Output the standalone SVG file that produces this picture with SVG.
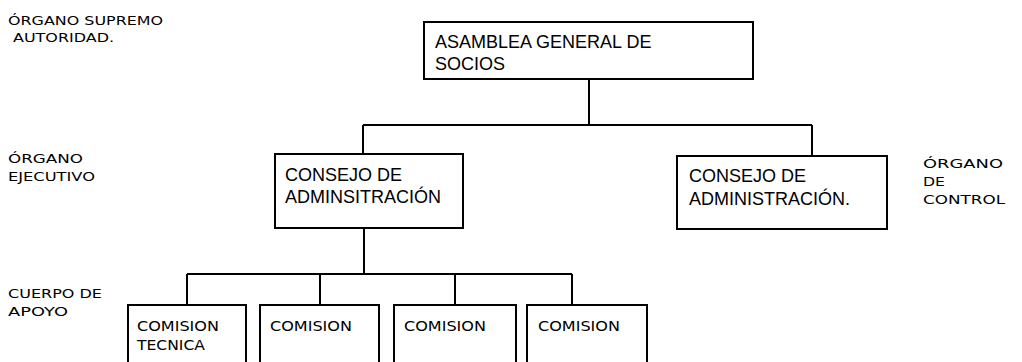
<svg xmlns="http://www.w3.org/2000/svg" width="1022" height="362" viewBox="0 0 1022 362">
<style>
.box{fill:#fff;stroke:#000;stroke-width:2}
.ln{fill:none;stroke:#000;stroke-width:2}
.bt{font-family:"Liberation Sans",Arial,sans-serif;font-size:18px;fill:#000}
.lb{font-family:"DejaVu Sans","Liberation Sans",sans-serif;font-size:13px;fill:#000}
.ct{font-family:"DejaVu Sans","Liberation Sans",sans-serif;font-size:14px;fill:#000}
</style>
<rect width="1022" height="362" fill="#fff"/>
<g id="connectors">
<path class="ln" d="M589 79V125M363 125H812M363 125V154M812 125V156"/>
<path class="ln" d="M364 228V274M187 274H572M187 274V305M320 274V305M455 274V305M572 274V305"/>
</g>
<g id="labels">
<text class="lb" x="8" y="25" textLength="155" lengthAdjust="spacingAndGlyphs">ÓRGANO SUPREMO</text>
<text class="lb" x="13" y="42" textLength="101" lengthAdjust="spacingAndGlyphs">AUTORIDAD.</text>
<text class="lb" x="8" y="163" textLength="75" lengthAdjust="spacingAndGlyphs">ÓRGANO</text>
<text class="lb" x="8" y="181" textLength="87" lengthAdjust="spacingAndGlyphs">EJECUTIVO</text>
<text class="lb" x="923" y="168" textLength="80" lengthAdjust="spacingAndGlyphs">ÓRGANO</text>
<text class="lb" x="923" y="186" textLength="22" lengthAdjust="spacingAndGlyphs">DE</text>
<text class="lb" x="923" y="204" textLength="82" lengthAdjust="spacingAndGlyphs">CONTROL</text>
<text class="lb" x="8" y="298" textLength="94" lengthAdjust="spacingAndGlyphs">CUERPO DE</text>
<text class="lb" x="8" y="316" textLength="60" lengthAdjust="spacingAndGlyphs">APOYO</text>
</g>
<g id="asamblea">
<rect class="box" x="424" y="22" width="329" height="57"/>
<text class="bt" x="435" y="48">ASAMBLEA GENERAL DE</text>
<text class="bt" x="435" y="70">SOCIOS</text>
</g>
<g id="consejo-admin-left">
<rect class="box" x="275" y="154" width="188" height="74"/>
<text class="bt" x="285" y="181">CONSEJO DE</text>
<text class="bt" x="285" y="203">ADMINSITRACIÓN</text>
</g>
<g id="consejo-admin-right">
<rect class="box" x="677" y="156" width="210" height="73"/>
<text class="bt" x="689" y="182">CONSEJO DE</text>
<text class="bt" x="689" y="205">ADMINISTRACIÓN.</text>
</g>
<g id="comision-tecnica">
<rect class="box" x="128" y="305" width="118" height="70"/>
<text class="ct" x="137" y="331" textLength="82" lengthAdjust="spacingAndGlyphs">COMISION</text>
<text class="ct" x="137" y="350" textLength="68" lengthAdjust="spacingAndGlyphs">TECNICA</text>
</g>
<g id="comision-2">
<rect class="box" x="260" y="305" width="119" height="70"/>
<text class="ct" x="270" y="331" textLength="82" lengthAdjust="spacingAndGlyphs">COMISION</text>
</g>
<g id="comision-3">
<rect class="box" x="394" y="305" width="122" height="70"/>
<text class="ct" x="404" y="331" textLength="82" lengthAdjust="spacingAndGlyphs">COMISION</text>
</g>
<g id="comision-4">
<rect class="box" x="527" y="305" width="120" height="70"/>
<text class="ct" x="538" y="331" textLength="82" lengthAdjust="spacingAndGlyphs">COMISION</text>
</g>
</svg>
